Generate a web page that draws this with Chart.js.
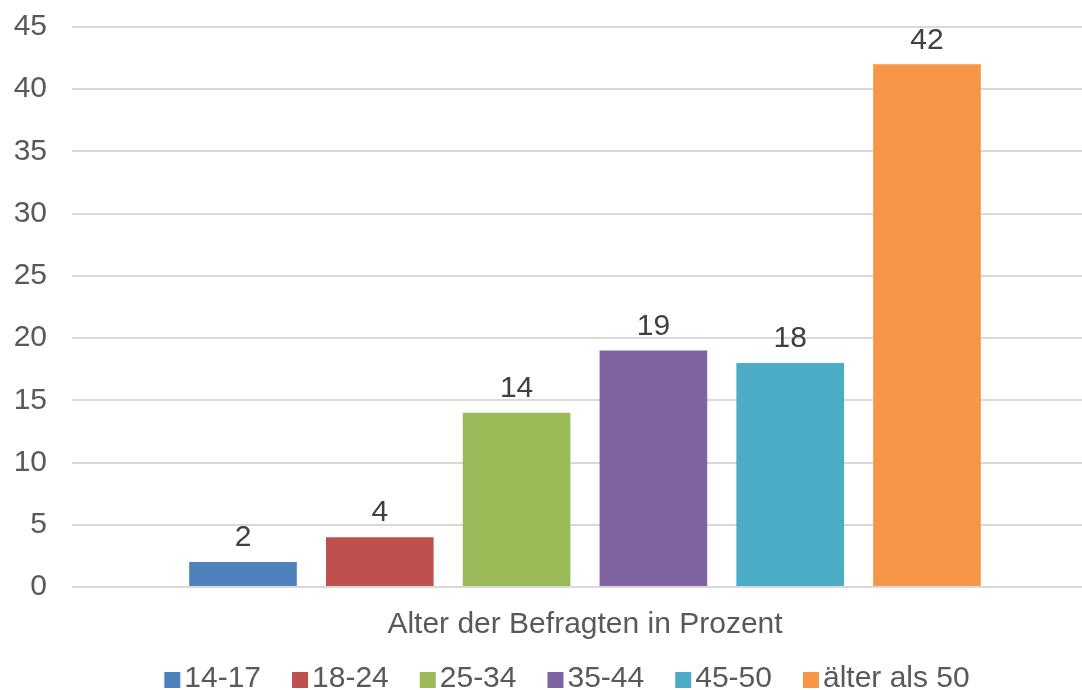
<!DOCTYPE html>
<html>
<head>
<meta charset="utf-8">
<script src="https://cdn.jsdelivr.net/npm/chart.js@4"></script>
<style>
  html, body { margin: 0; padding: 0; background: #fff; overflow: hidden; }
  #wrap { width: 1082px; height: 690px; overflow: hidden; }
</style>
</head>
<body>
<div id="wrap"><canvas id="chart" width="1098" height="690"></canvas></div>
<script>
// categories / series
const category = ['Alter der Befragten in Prozent'];
const groups = ['14-17', '18-24', '25-34', '35-44', '45-50', 'älter als 50'];
const values = [2, 4, 14, 19, 18, 42];
const colors = ['#4F81BD', '#C0504D', '#9BBB59', '#8064A2', '#4BACC6', '#F79646'];
const yTicks = [0, 5, 10, 15, 20, 25, 30, 35, 40, 45];

const FONT = "'Liberation Sans', Arial, sans-serif";

// value labels above bars
const barLabels = {
    id: 'barLabels',
    afterDatasetsDraw(chart) {
        const ctx = chart.ctx;
        ctx.save();
        ctx.font = '30px ' + FONT;
        ctx.fillStyle = '#404040';
        ctx.textAlign = 'center';
        ctx.textBaseline = 'bottom';
        chart.data.datasets.forEach((ds, i) => {
            chart.getDatasetMeta(i).data.forEach((bar, j) => {
                ctx.fillText(ds.data[j], bar.x, bar.y - 9);
            });
        });
        ctx.restore();
    }
};

// Excel-like legend: small square, tight text gap, wider item gap
const bottomLegend = {
    id: 'bottomLegend',
    afterDraw(chart) {
        const ctx = chart.ctx;
        const y = 679;
        ctx.save();
        ctx.font = '30px ' + FONT;
        ctx.textBaseline = 'middle';
        ctx.textAlign = 'left';
        const items = chart.data.datasets.map(ds => ({
            text: ds.label, color: ds.backgroundColor, w: ctx.measureText(ds.label).width
        }));
        const total = items.reduce((s, it) => s + 20 + it.w, 0) + 31 * (items.length - 1);
        let x = 567 - total / 2;
        items.forEach(it => {
            ctx.fillStyle = it.color;
            ctx.fillRect(x, y - 7, 16, 16);
            ctx.fillStyle = '#595959';
            ctx.fillText(it.text, x + 20, y);
            x += 20 + it.w + 31;
        });
        ctx.restore();
    }
};

const datasets = groups.map((g, i) => ({
    label: g,
    data: [values[i]],
    backgroundColor: colors[i],
    borderWidth: 0,
    barPercentage: 0.787,
    categoryPercentage: 0.80
}));

new Chart(document.getElementById('chart').getContext('2d'), {
    type: 'bar',
    data: { labels: category, datasets: datasets },
    plugins: [barLabels, bottomLegend],
    options: {
        responsive: false,
        animation: false,
        layout: { padding: { left: 14, right: 0, top: 0, bottom: 35 } },
        plugins: {
            tooltip: { enabled: false },
            legend: { display: false }
        },
        scales: {
            x: {
                grid: { display: false },
                border: { display: false },
                ticks: {
                    font: { family: FONT, size: 30 },
                    color: '#595959',
                    padding: 12
                }
            },
            y: {
                min: 0,
                max: 45,
                afterBuildTicks: (axis) => { axis.ticks = yTicks.map(v => ({ value: v })); },
                afterFit: (axis) => { axis.width = 58; },
                grid: { color: '#d9d9d9', lineWidth: 2, drawTicks: true, tickLength: 16, tickColor: 'rgba(0,0,0,0)' },
                border: { display: false },
                ticks: {
                    font: { family: FONT, size: 30 },
                    color: '#595959',
                    padding: 9
                }
            }
        }
    }
});
</script>
</body>
</html>
